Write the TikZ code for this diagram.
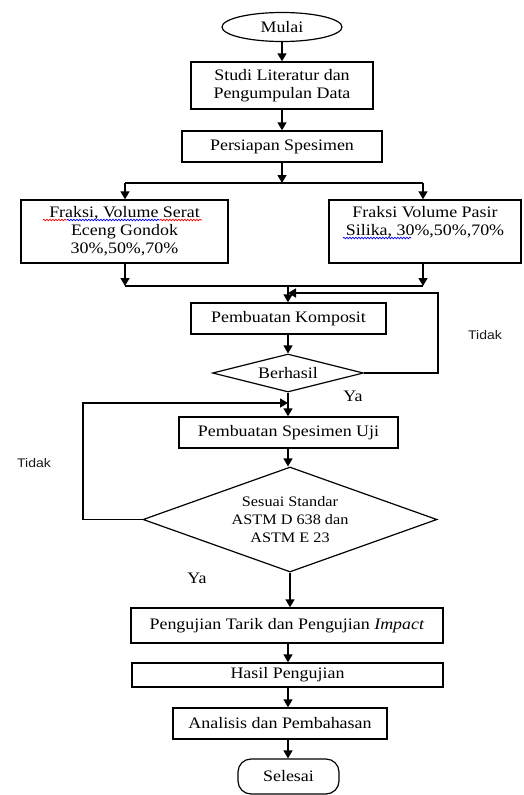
\documentclass[tikz,border=0pt]{standalone}
\usepackage{fontspec}
\setmainfont{Liberation Serif}[FakeStretch=1.12]
\newfontfamily\tidakfont{Liberation Sans}[FakeStretch=1.12]
\usetikzlibrary{shapes.geometric,arrows.meta,decorations.pathmorphing}
\begin{document}
\begin{tikzpicture}[x=1pt,y=-1pt,
  every node/.style={font=\fontsize{16}{17.5}\selectfont},
  box/.style={draw, line width=1.4pt, rectangle, inner sep=0pt, align=center},
  dia/.style={draw, line width=1.2pt, diamond, inner sep=0pt},
  term/.style={draw, line width=1.2pt, inner sep=0pt},
  arr/.style={line width=1.4pt, -{Triangle[width=9pt,length=8pt]}},
  ln/.style={line width=1.4pt},
  lbltop/.style={anchor=north, align=center, inner sep=0pt, yshift=-7pt, font=\fontsize{16}{18}\selectfont},
  tidak/.style={font=\tidakfont\fontsize{12.5}{14}\selectfont, gray!20!black},
  ya/.style={font=\fontsize{16}{17.5}\selectfont},
  squig/.style={decorate, decoration={snake, amplitude=0.8pt, segment length=3pt}, line width=0.7pt}
]
\useasboundingbox (0,0) rectangle (523,795);

% top part
\node[term, ellipse, minimum width=120, minimum height=29] (mulai) at (282,27) {Mulai};
\node[box, minimum width=182, minimum height=47] (studi) at (282,85.5) {Studi Literatur dan\\Pengumpulan Data};
\node[box, minimum width=200, minimum height=31] (persiapan) at (282,146.5) {Persiapan Spesimen};

\node[box, minimum width=207, minimum height=63,
  label={[lbltop]north:{Fraksi, Volume Serat\\Eceng Gondok\\30\%,50\%,70\%}}] (fa) at (124.5,231.5) {};
\node[box, minimum width=192, minimum height=63,
  label={[lbltop]north:{Fraksi Volume Pasir\\Silika, 30\%,50\%,70\%}}] (fb) at (425,231.5) {};

\coordinate (split) at (282,183);
\coordinate (splitL) at (125,183);
\coordinate (splitR) at (423,183);
\coordinate (mergeL) at (125,286);
\coordinate (mergeR) at (423,286);
\coordinate (mergeC) at (288,286);

\node[box, minimum width=195, minimum height=31] (komp) at (288.5,318.5) {Pembuatan Komposit};
\node[dia, minimum width=151, minimum height=38, label={center:Berhasil}] (b1) at (288,373) {};
\node[box, minimum width=219, minimum height=31] (spes) at (288.5,432.5) {Pembuatan Spesimen Uji};
\node[dia, minimum width=294, minimum height=105,
  label={[align=center, font=\fontsize{14.5}{18}\selectfont]center:Sesuai Standar\\ASTM D 638 dan\\ASTM E 23}] (b2) at (290,519.5) {};
\node[box, minimum width=312, minimum height=35] (uji) at (287,625.5) {Pengujian Tarik dan Pengujian \textit{Impact}};
\node[box, minimum width=311, minimum height=24] (hasil) at (287.5,675) {Hasil Pengujian};
\node[box, minimum width=214, minimum height=31] (ana) at (280,723.5) {Analisis dan Pembahasan};
\node[term, rectangle, rounded corners=13pt, minimum width=101, minimum height=35] (selesai) at (288.5,776.5) {Selesai};

% labels
\node[tidak] (t1) at (485,335) {Tidak};
\node[tidak] (t2) at (34,463) {Tidak};
\node[ya] (y1) at (353,396) {Ya};
\node[ya] (y2) at (197,578) {Ya};

% connectors top
\draw[arr] (mulai.south) -- (studi.north);
\draw[arr] (studi.south) -- (persiapan.north);
\draw[arr] (persiapan.south) -- (split);
\draw[ln] (splitL) -- (splitR);
\draw[arr] (splitL) -- (splitL |- fa.north);
\draw[arr] (splitR) -- (splitR |- fb.north);
\draw[arr] (splitL |- fa.south) -- (mergeL);
\draw[arr] (splitR |- fb.south) -- (mergeR);
\draw[ln] (mergeL) -- (mergeR);
\draw[arr] (mergeC) -- (mergeC |- komp.north);

% komposit loop
\draw[arr] (mergeC |- komp.south) -- (b1.north);
\coordinate (fbR) at (438,373);
\coordinate (fbT) at (438,293);
\draw[arr] (b1.east) -- (fbR) -- (fbT) -- (fbT -| mergeC);

\draw[arr] (b1.south) -- (b1.south |- spes.north);
\draw[arr] (b1.south |- spes.south) -- (b1.south |- b2.north);

% spesimen loop
\coordinate (lbL) at (83,519.5);
\coordinate (lbT) at (83,403);
\draw[arr] (b2.west) -- (lbL) -- (lbT) -- (lbT -| b1.south);

\draw[arr] (b2.south) -- (b2.south |- uji.north);
\draw[arr] (b1.south |- uji.south) -- (b1.south |- hasil.north);
\draw[arr] (b1.south |- hasil.south) -- (b1.south |- ana.north);
\draw[arr] (b1.south |- ana.south) -- (b1.south |- selesai.north);

% spell-check underlines
\draw[squig, red] (43,220) -- (67,220);
\draw[squig, blue] (67,220) -- (160,220);
\draw[squig, red] (160,220) -- (202,220);
\draw[squig, blue] (343,238) -- (411,238);
\end{tikzpicture}
\end{document}
